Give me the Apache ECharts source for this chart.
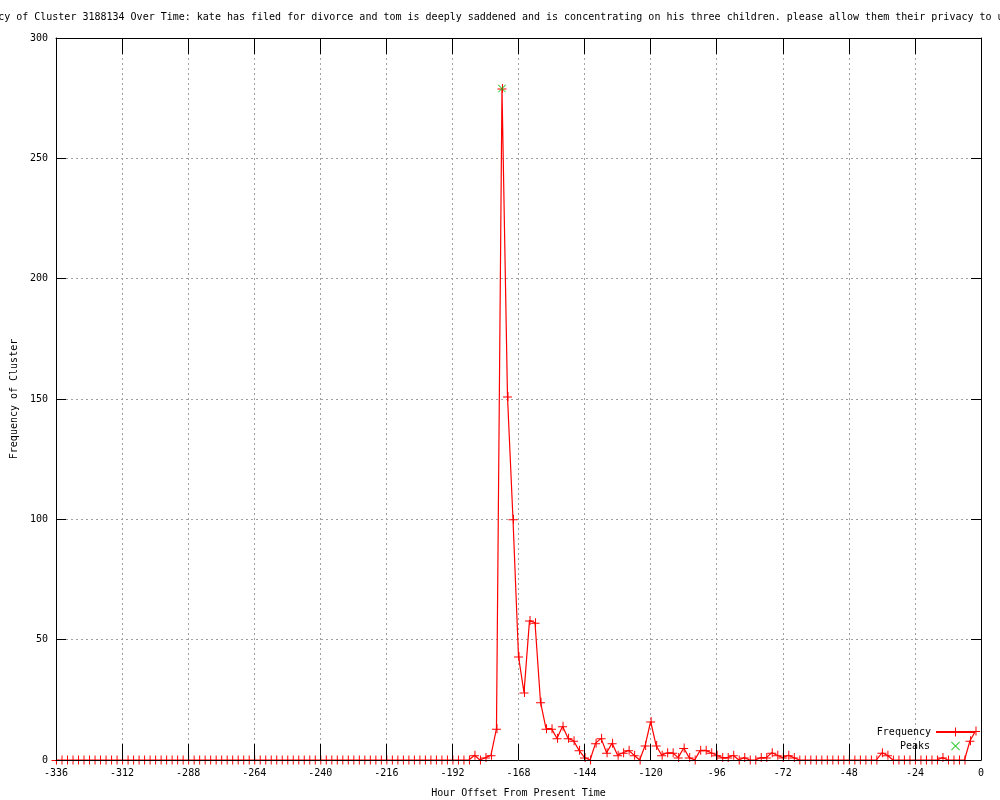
<!DOCTYPE html>
<html>
<head>
<meta charset="utf-8">
<script src="https://cdn.jsdelivr.net/npm/echarts@6/dist/echarts.min.js"></script>
<style>html,body{margin:0;padding:0;background:#fff;}#c{width:1000px;height:800px;}</style>
</head>
<body>
<div id="c"></div>
<script>
// Hour offsets: every 2 hours from -336 to -2
var hourStart = -336, hourStep = 2;
// Frequency values, one per 2-hour bin (-336 ... -2)
var zerosEarly = [0,0,0,0,0,0,0,0,0,0, 0,0,0,0,0,0,0,0,0,0, 0,0,0,0,0,0,0,0,0,0,
                  0,0,0,0,0,0,0,0,0,0, 0,0,0,0,0,0,0,0,0,0, 0,0,0,0,0,0,0,0,0,0,
                  0,0,0,0,0,0,0,0,0,0, 0,0,0,0]; // -336 .. -190
var burst = [0,0,2,0,1,2,13,279,151,100,
             43,28,58,57,24,13,13,9,14,9,
             8,4,1,0,7,9,3,7,2,3,
             4,2,0,6,16,6,2,3,3,1,
             5,1,0,4,4,3,2,1,1,2,
             0,1,0,0,1,1,3,2,1,2,
             1]; // -188 .. -68
var tail = [0,0,0,0,0,0,0,0,0,0,0,0,0,0,0, 3,2, 0,0,0,0,0,0,0,0,0, 1, 0,0,0,0, 8,12]; // -66 .. -2
var frequency = zerosEarly.concat(burst, tail);
var hours = frequency.map(function(v, i){ return hourStart + hourStep * i; });
var peakHours = [-174];
var peakValues = [279];

var titleText = 'Frequency of Cluster 3188134 Over Time: kate has filed for divorce and tom is deeply saddened and is concentrating on his three children. please allow them their privacy to u';
var FONT = 'DejaVu Sans Mono';

var freqData = hours.map(function(h, i){ return [h, frequency[i]]; });
var peakData = peakHours.map(function(h, i){ return [h, peakValues[i]]; });

var plusPath = 'path://M0,4.5H9V5.5H0Z M4.5,0H5.5V9H4.5Z';
var crossPath = 'path://M0,0.7L0.7,0L9,8.3L8.3,9Z M8.3,0L9,0.7L0.7,9L0,8.3Z';

var chart = echarts.init(document.getElementById('c'), null, {renderer: 'canvas'});
var txt = {fontFamily: FONT, fontSize: 10, color: '#000'};
chart.setOption({
  animation: false,
  backgroundColor: '#fff',
  title: {
    text: titleText, left: -44, top: 12, padding: 0,
    textStyle: {fontFamily: FONT, fontSize: 10, fontWeight: 'normal', color: '#000'}
  },
  grid: {left: 56, right: 19, top: 38, bottom: 40, containLabel: false, outerBoundsMode: 'none'},
  legend: [
    {data: ['Frequency'], right: 25, top: 727, padding: 0, align: 'right', itemWidth: 38, itemHeight: 11, textStyle: txt},
    {data: ['Peaks'], right: 40, top: 741, padding: 0, align: 'right', itemWidth: 9, itemHeight: 9,
     textStyle: {fontFamily: FONT, fontSize: 10, color: '#000', padding: [0, 16, 0, 0]}}
  ],
  xAxis: [
    {
      type: 'value', position: 'bottom', min: -336, max: 0, interval: 24, z: 5,
      name: 'Hour Offset From Present Time', nameLocation: 'middle', nameGap: 28,
      nameTextStyle: txt,
      axisLine: {show: true, onZero: false, lineStyle: {color: '#000', width: 1}},
      axisTick: {show: true, inside: true, length: 16, lineStyle: {color: '#000'}},
      axisLabel: {show: true, margin: 8, fontFamily: FONT, fontSize: 10, color: '#000'},
      splitLine: {show: false}
    },
    {
      type: 'value', position: 'top', min: -336, max: 0, interval: 24, z: 0,
      axisLine: {show: true, onZero: false, lineStyle: {color: '#000', width: 1}},
      axisTick: {show: true, inside: true, length: 16, lineStyle: {color: '#000'}},
      axisLabel: {show: false},
      splitLine: {show: true, lineStyle: {color: '#a0a0a0', type: [2, 3], width: 1}}
    }
  ],
  yAxis: [
    {
      type: 'value', position: 'left', min: 0, max: 300, interval: 50,
      name: 'Frequency of Cluster', nameLocation: 'middle', nameGap: 37, nameRotate: 90,
      nameTextStyle: txt,
      axisLine: {show: true, onZero: false, lineStyle: {color: '#000', width: 1}},
      axisTick: {show: true, inside: true, length: 10, lineStyle: {color: '#000'}},
      axisLabel: {show: true, margin: 8, fontFamily: FONT, fontSize: 10, color: '#000'},
      splitLine: {show: true, lineStyle: {color: '#a0a0a0', type: [2, 3], width: 1}}
    },
    {
      type: 'value', position: 'right', min: 0, max: 300, interval: 50,
      axisLine: {show: true, onZero: false, lineStyle: {color: '#000', width: 1}},
      axisTick: {show: true, inside: true, length: 10, lineStyle: {color: '#000'}},
      axisLabel: {show: false},
      splitLine: {show: false}
    }
  ],
  series: [
    {
      name: 'Frequency', type: 'line', xAxisIndex: 0, yAxisIndex: 0,
      data: freqData, symbol: plusPath, symbolSize: 9,
      showSymbol: true, showAllSymbol: true, z: 2,
      lineStyle: {color: '#ff0000', width: 1.2},
      itemStyle: {color: '#ff0000'},
      emphasis: {disabled: true}
    },
    {
      name: 'Peaks', type: 'scatter', xAxisIndex: 0, yAxisIndex: 0,
      data: peakData, symbol: crossPath, symbolSize: 8, z: 3,
      itemStyle: {color: '#00c000'},
      emphasis: {disabled: true}
    }
  ]
});
</script>
</body>
</html>
